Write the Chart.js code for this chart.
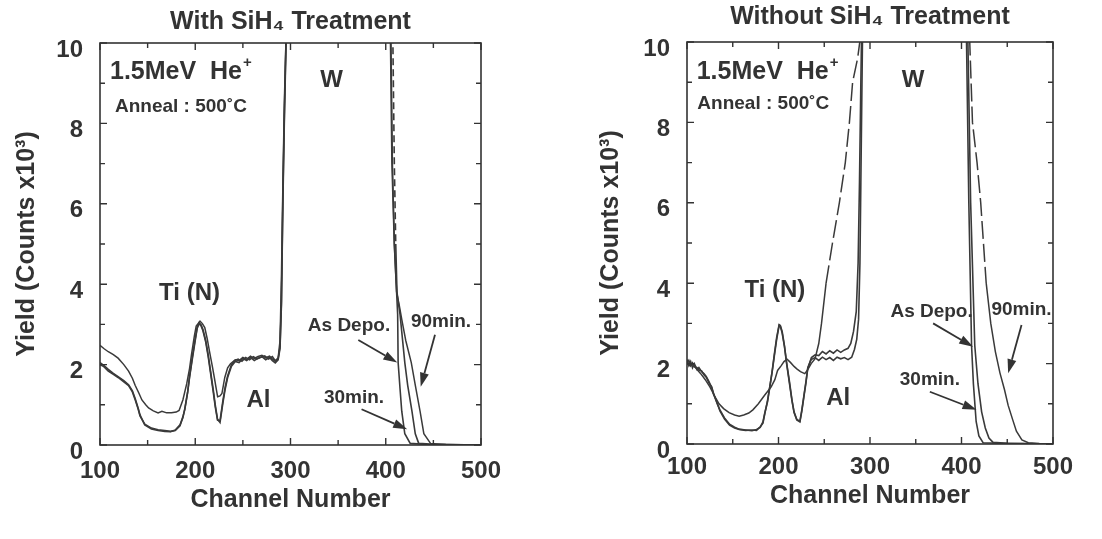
<!DOCTYPE html>
<html>
<head>
<meta charset="utf-8">
<title>RBS spectra - SiH4 treatment</title>
<script src="https://cdn.jsdelivr.net/npm/chart.js@4.4.1/dist/chart.umd.min.js"></script>
<style>
  html, body { margin: 0; padding: 0; background: #fff; }
  #wrap { position: relative; width: 1102px; height: 539px; overflow: hidden; }
  .panel { position: absolute; top: 0; width: 551px; height: 539px; }
</style>
</head>
<body>
<div id="wrap">
  <div class="panel" style="left:0"><canvas id="withChart" width="551" height="539"></canvas></div>
  <div class="panel" style="left:551px"><canvas id="withoutChart" width="551" height="539"></canvas></div>
</div>
<script>
// Tick values (channel number / yield x10^3)
const xMajorTicks = [100, 200, 300, 400, 500];
const xMinorTicks = [150, 250, 350, 450];
const yMajorTicks = [0, 2, 4, 6, 8, 10];
const yMinorTicks = [1, 3, 5, 7, 9];

// With SiH4 treatment: [channel, yield]
const withAsDepo = [
    [100, 2.0], [104, 1.95], [108.7, 1.84], [114, 1.76], [119, 1.68], [125, 1.57], [130, 1.48], [134, 1.32],
    [137, 1.12], [140, 0.9], [142, 0.72], [147, 0.52], [154, 0.42], [161, 0.38], [168, 0.36], [174, 0.34],
    [179, 0.36], [184, 0.48], [187, 0.7], [189, 0.88], [192, 1.3], [194, 1.68], [197, 2.15], [199.7, 2.56],
    [202, 2.9], [204, 3.04], [206, 3.0], [208, 2.88], [211, 2.6], [213.6, 2.24], [216, 1.85], [219, 1.36],
    [221, 1.0], [223.4, 0.64], [226, 0.56], [229, 1.04], [231.5, 1.4], [234, 1.68], [238, 1.96], [242, 2.08],
    [246, 2.05], [250, 2.15], [254, 2.1], [258, 2.18], [262, 2.1], [266, 2.16], [270, 2.2], [274, 2.12],
    [278, 2.18], [281, 2.1], [284, 2.04], [287, 2.12], [289, 2.4], [290.5, 3.5], [292, 6], [293.5, 8],
    [295.5, 10.2], [297, 14], [404, 14], [405, 10], [406.5, 7], [409, 5], [411.4, 3.8], [412.5, 3.25],
    [413, 2.05], [415, 1.4], [416.8, 0.84], [420, 0.28], [425.7, 0.04], [440, 0.02], [500, 0]
];
const with30min = [
    [100, 2.05], [104, 1.98], [108.7, 1.88], [114, 1.78], [119, 1.7], [125, 1.6], [130, 1.5], [134, 1.35],
    [137, 1.15], [140, 0.92], [142, 0.75], [147, 0.5], [154, 0.4], [161, 0.36], [168, 0.34], [174, 0.33],
    [179, 0.37], [184, 0.5], [187, 0.68], [189, 0.9], [192, 1.32], [194, 1.7], [197, 2.2], [199.7, 2.6],
    [202, 2.92], [204, 3.02], [206, 2.97], [208, 2.85], [211, 2.56], [213.6, 2.2], [216, 1.8], [219, 1.3],
    [221, 0.95], [223.4, 0.62], [226, 0.6], [229, 1.1], [231.5, 1.45], [234, 1.72], [238, 2.0], [242, 2.12],
    [246, 2.1], [250, 2.18], [254, 2.13], [258, 2.21], [262, 2.15], [266, 2.2], [270, 2.23], [274, 2.17],
    [278, 2.21], [281, 2.14], [284, 2.08], [287, 2.15], [289, 2.45], [290.5, 3.6], [292, 6.2], [293.5, 8.2],
    [295.5, 10.3], [297, 14], [406, 14], [407.5, 10], [409, 7], [410.5, 5], [411.8, 3.8], [413.5, 3.5],
    [415, 3.25], [420, 2.05], [423, 1.49], [427.5, 0.84], [431, 0.28], [434.6, 0.04], [450, 0.02], [500, 0]
];
const with90min = [
    [100, 2.48], [104, 2.4], [108.7, 2.32], [114, 2.25], [119, 2.16], [125, 2.0], [130, 1.84], [134, 1.66],
    [137, 1.48], [141, 1.28], [144, 1.12], [148, 1.0], [151, 0.92], [156, 0.85], [161, 0.8], [165, 0.84],
    [170, 0.8], [175, 0.8], [180, 0.82], [183, 0.86], [187, 1.12], [191, 1.52], [194, 1.9], [196, 2.24],
    [199, 2.7], [201, 2.96], [205, 3.08], [207.5, 3.02], [210, 2.92], [212.5, 2.65], [215, 2.32], [218, 1.95],
    [220, 1.68], [222, 1.4], [223.5, 1.2], [226, 1.22], [228, 1.28], [231, 1.68], [234, 1.92], [237, 2.02],
    [241, 2.1], [245, 2.14], [249, 2.08], [253, 2.18], [257, 2.12], [261, 2.2], [265, 2.14], [269, 2.18],
    [273, 2.22], [277, 2.14], [281, 2.2], [284, 2.1], [287, 2.16], [289, 2.6], [290.5, 4.2], [292, 6.5],
    [293.5, 8.5], [295.5, 10.3], [297, 14], [404, 14], [405.5, 10], [407, 7], [409, 5], [411.4, 3.8],
    [414, 3.5], [417, 3.1], [421, 2.6], [426.8, 2.05], [431, 1.49], [436, 0.84], [440, 0.28], [447, 0.04],
    [463, 0.01], [500, 0]
];

// Without SiH4 treatment: [channel, yield]
const withoutAsDepo = [
    [100, 2.1], [102, 1.95], [104, 2.05], [106, 1.9], [108, 2.0], [111, 1.85], [113, 1.9], [116, 1.8],
    [118.5, 1.75], [121, 1.68], [124, 1.55], [127, 1.4], [129, 1.26], [133, 1.0], [136, 0.85], [141, 0.65],
    [146.5, 0.49], [152, 0.42], [157, 0.37], [164, 0.35], [171, 0.33], [176, 0.36], [180, 0.41], [183, 0.55],
    [185, 0.77], [188, 1.05], [190, 1.34], [193, 1.8], [195.5, 2.24], [198, 2.65], [200.7, 2.97], [202, 2.95],
    [204, 2.8], [206.5, 2.45], [209, 2.0], [212, 1.55], [214.7, 1.1], [217, 0.8], [220, 0.61], [223.4, 0.57],
    [225.5, 0.85], [227.6, 1.18], [230, 1.55], [232, 1.9], [235.7, 2.1], [240, 2.15], [244, 2.08], [248, 2.16],
    [252, 2.1], [256, 2.15], [260, 2.08], [264, 2.16], [268, 2.12], [272, 2.15], [276, 2.1], [280, 2.16],
    [283, 2.35], [285.5, 2.6], [287.5, 3.1], [289, 4.5], [290, 6.5], [291, 8.5], [292, 10.5], [293, 14],
    [404, 14], [405.5, 10], [408, 6], [411, 2.45], [413, 1.5], [416, 0.56], [419, 0.2], [423.6, 0.03],
    [440, 0.02], [500, 0]
];
const without30min = [
    [100, 2.0], [102, 2.08], [104, 1.95], [106, 2.02], [108, 1.92], [111, 1.9], [113, 1.84], [116, 1.82],
    [118.5, 1.72], [121, 1.66], [124, 1.52], [127, 1.42], [129, 1.24], [133, 1.02], [136, 0.82], [141, 0.62],
    [146.5, 0.47], [152, 0.4], [157, 0.36], [164, 0.34], [171, 0.35], [176, 0.34], [180, 0.43], [183, 0.52],
    [185, 0.75], [188, 1.08], [190, 1.36], [193, 1.78], [195.5, 2.2], [198, 2.6], [200.7, 2.95], [202, 2.93],
    [204, 2.76], [206.5, 2.42], [209, 1.98], [212, 1.5], [214.7, 1.08], [217, 0.78], [220, 0.6], [223.4, 0.55],
    [225.5, 0.82], [227.6, 1.15], [230, 1.52], [232, 1.88], [236, 2.15], [240, 2.22], [244, 2.2], [248, 2.3],
    [252, 2.24], [256, 2.32], [260, 2.26], [264, 2.34], [268, 2.28], [272, 2.34], [276, 2.38], [279, 2.5],
    [282, 2.8], [285, 3.3], [287, 4.5], [288.5, 6.5], [290, 9], [291, 10.5], [292, 14],
    [405, 14], [407, 10], [410, 6], [414.5, 2.45], [418, 1.5], [422, 0.8], [426, 0.4], [430, 0.15],
    [434.5, 0.04], [450, 0.02], [500, 0]
];
const without90min = [
    [100, 2.0], [103, 1.95], [106, 2.0], [110, 1.88], [115, 1.75], [120, 1.6], [125, 1.42], [130, 1.2],
    [135, 1.0], [140, 0.88], [146, 0.78], [152, 0.72], [157, 0.69], [162, 0.72], [167.5, 0.77], [172, 0.85],
    [178, 1.0], [185, 1.22], [192, 1.42], [196, 1.6], [199, 1.83], [203, 1.95], [206, 2.05], [209.4, 2.11],
    [213, 2.03], [217, 1.93], [220, 1.87], [224, 1.8], [228.7, 1.75], [232, 1.85], [235.7, 2.0], [240, 2.12],
    [244, 2.5], [247, 3.0], [252, 4.0], [259, 5.0], [266.5, 6.0], [273, 7.0], [277.5, 8.0], [281, 9.0],
    [286.5, 9.6], [290, 10.2], [292, 14], [408, 14], [409, 10], [412, 8], [417, 7], [421, 6], [427, 4],
    [432, 3], [437, 2.3], [442, 1.77], [447, 1.35], [451, 0.96], [456, 0.6], [460, 0.32], [466, 0.1],
    [473, 0.03], [485, 0.01], [500, 0]
];

const FONT = '"Liberation Sans", Arial, Helvetica, sans-serif';
const INK = '#333';
const LINE = '#3a3a3a';

Chart.defaults.font.family = FONT;
Chart.defaults.color = INK;

// Frame box with inward ticks on all four sides
const frameTicks = {
    id: 'frameTicks',
    afterDatasetsDraw(chart) {
        const { ctx, chartArea: a, scales: { x, y } } = chart;
        ctx.save();
        ctx.strokeStyle = INK;
        ctx.lineWidth = 1.6;
        ctx.strokeRect(a.left, a.top, a.right - a.left, a.bottom - a.top);
        ctx.lineWidth = 1.4;
        ctx.beginPath();
        const xMark = (v, len) => {
            const px = x.getPixelForValue(v);
            ctx.moveTo(px, a.bottom); ctx.lineTo(px, a.bottom - len);
            ctx.moveTo(px, a.top); ctx.lineTo(px, a.top + len);
        };
        const yMark = (v, len) => {
            const py = y.getPixelForValue(v);
            ctx.moveTo(a.left, py); ctx.lineTo(a.left + len, py);
            ctx.moveTo(a.right, py); ctx.lineTo(a.right - len, py);
        };
        xMajorTicks.forEach(v => xMark(v, 7));
        xMinorTicks.forEach(v => xMark(v, 5));
        yMajorTicks.forEach(v => yMark(v, 7));
        yMinorTicks.forEach(v => yMark(v, 5));
        ctx.stroke();
        ctx.restore();
    }
};

// Text labels and arrows placed in data coordinates
const notes = {
    id: 'notes',
    afterDatasetsDraw(chart, args, opts) {
        const { ctx, scales: { x, y } } = chart;
        ctx.save();
        ctx.fillStyle = INK;
        ctx.strokeStyle = INK;
        (opts.labels || []).forEach(n => {
            const px = x.getPixelForValue(n.x), py = y.getPixelForValue(n.y);
            ctx.font = `bold ${n.size}px ${FONT}`;
            ctx.textAlign = n.align || 'center';
            ctx.textBaseline = 'middle';
            ctx.fillText(n.text, px, py);
            if (n.sup) {
                const w = ctx.measureText(n.text).width;
                const sx = n.align === 'left' ? px + w : px + w / 2;
                ctx.font = `bold ${Math.round(n.size * 0.6)}px ${FONT}`;
                ctx.textAlign = 'left';
                ctx.fillText(n.sup, sx + 1, py - n.size * 0.36);
            }
        });
        (opts.arrows || []).forEach(a => {
            const x1 = x.getPixelForValue(a.from[0]), y1 = y.getPixelForValue(a.from[1]);
            const x2 = x.getPixelForValue(a.to[0]), y2 = y.getPixelForValue(a.to[1]);
            const ang = Math.atan2(y2 - y1, x2 - x1);
            const head = 14, half = 4.5;
            const bx = x2 - head * Math.cos(ang), by = y2 - head * Math.sin(ang);
            ctx.lineWidth = 1.8;
            ctx.beginPath();
            ctx.moveTo(x1, y1);
            ctx.lineTo(bx, by);
            ctx.stroke();
            ctx.beginPath();
            ctx.moveTo(x2, y2);
            ctx.lineTo(bx + half * Math.sin(ang), by - half * Math.cos(ang));
            ctx.lineTo(bx - half * Math.sin(ang), by + half * Math.cos(ang));
            ctx.closePath();
            ctx.fill();
        });
        ctx.restore();
    }
};

function series(data, width, dashRule) {
    return {
        data: data,
        borderColor: LINE,
        borderWidth: width,
        pointRadius: 0,
        tension: 0,
        fill: false,
        segment: dashRule ? { borderDash: dashRule } : undefined
    };
}

function makeChart(id, cfg) {
    return new Chart(document.getElementById(id), {
        type: 'line',
        data: { datasets: cfg.datasets },
        options: {
            responsive: false,
            animation: false,
            devicePixelRatio: 1,
            layout: { padding: cfg.padding },
            plugins: {
                legend: { display: false },
                tooltip: { enabled: false },
                title: {
                    display: true,
                    text: cfg.title,
                    fullSize: false,
                    color: INK,
                    font: { size: 25, weight: 'bold' },
                    padding: cfg.titlePadding
                },
                notes: { labels: cfg.labels, arrows: cfg.arrows }
            },
            scales: {
                x: {
                    type: 'linear',
                    min: 100,
                    max: 500,
                    grid: { display: false, drawTicks: false },
                    border: { display: false },
                    afterBuildTicks: s => { s.ticks = xMajorTicks.map(v => ({ value: v })); },
                    afterFit: s => { s.height = cfg.xHeight; },
                    ticks: { font: { size: 24, weight: 'bold' }, color: INK, padding: cfg.xTickPad, maxRotation: 0 },
                    title: {
                        display: true,
                        text: 'Channel Number',
                        color: INK,
                        font: { size: 25, weight: 'bold' },
                        padding: { top: 0, bottom: cfg.xTitlePad }
                    }
                },
                y: {
                    type: 'linear',
                    min: 0,
                    max: 10,
                    grid: { display: false, drawTicks: false },
                    border: { display: false },
                    afterBuildTicks: s => { s.ticks = yMajorTicks.map(v => ({ value: v })); },
                    afterFit: s => { s.width = cfg.yWidth; },
                    ticks: { font: { size: 24, weight: 'bold' }, color: INK, padding: 17, labelOffset: 7 },
                    title: {
                        display: true,
                        text: 'Yield (Counts x10³)',
                        color: INK,
                        font: { size: 25, weight: 'bold' },
                        padding: { top: 12, bottom: 0 }
                    }
                }
            }
        },
        plugins: [frameTicks, notes]
    });
}

const topDash = ctx => (ctx.p0.parsed.x > 350 && ctx.p0.parsed.y >= 4.5 && ctx.p1.parsed.y >= 4.5) ? [7, 4] : undefined;
const longDash = ctx => (ctx.p0.parsed.y >= 4 && ctx.p1.parsed.y >= 4) ? [18, 5] : undefined;

makeChart('withChart', {
    title: 'With SiH₄ Treatment',
    titlePadding: { top: 7.5, bottom: 5.5 },
    padding: { left: 0, right: 70, top: 0, bottom: 0 },
    yWidth: 100,
    xHeight: 94,
    xTickPad: 12,
    xTitlePad: 24,
    datasets: [
        series(withAsDepo, 1.6),
        series(with30min, 1.6, topDash),
        series(with90min, 1.5)
    ],
    labels: [
        { text: '1.5MeV  He', sup: '+', x: 110.5, y: 9.28, size: 25, align: 'left' },
        { text: 'Anneal : 500˚C', x: 115.7, y: 8.42, size: 19, align: 'left' },
        { text: 'W', x: 343, y: 9.08, size: 24 },
        { text: 'Ti (N)', x: 194, y: 3.78, size: 24 },
        { text: 'Al', x: 266.4, y: 1.12, size: 24 },
        { text: 'As Depo.', x: 361.4, y: 2.96, size: 19 },
        { text: '90min.', x: 458, y: 3.07, size: 19 },
        { text: '30min.', x: 366.7, y: 1.17, size: 19 }
    ],
    arrows: [
        { from: [371.2, 2.61], to: [412.1, 2.05] },
        { from: [451.7, 2.74], to: [436.7, 1.45] },
        { from: [374.6, 0.89], to: [422.5, 0.39] }
    ]
});

makeChart('withoutChart', {
    title: 'Without SiH₄ Treatment',
    titlePadding: { top: 2.5, bottom: 9.5 },
    padding: { left: 33, right: 49, top: 0, bottom: 0 },
    yWidth: 103,
    xHeight: 95,
    xTickPad: 9,
    xTitlePad: 28,
    datasets: [
        series(withoutAsDepo, 1.6),
        series(without30min, 1.6),
        series(without90min, 1.5, longDash)
    ],
    labels: [
        { text: '1.5MeV  He', sup: '+', x: 110.6, y: 9.26, size: 25, align: 'left' },
        { text: 'Anneal : 500˚C', x: 111.3, y: 8.47, size: 19, align: 'left' },
        { text: 'W', x: 347.2, y: 9.05, size: 24 },
        { text: 'Ti (N)', x: 196, y: 3.83, size: 24 },
        { text: 'Al', x: 265.3, y: 1.14, size: 24 },
        { text: 'As Depo.', x: 367.3, y: 3.29, size: 19 },
        { text: '90min.', x: 465.6, y: 3.33, size: 19 },
        { text: '30min.', x: 365.4, y: 1.59, size: 19 }
    ],
    arrows: [
        { from: [369, 3.0], to: [412.7, 2.42] },
        { from: [465.6, 2.96], to: [451, 1.76] },
        { from: [365.4, 1.3], to: [416.4, 0.85] }
    ]
});
</script>
</body>
</html>
